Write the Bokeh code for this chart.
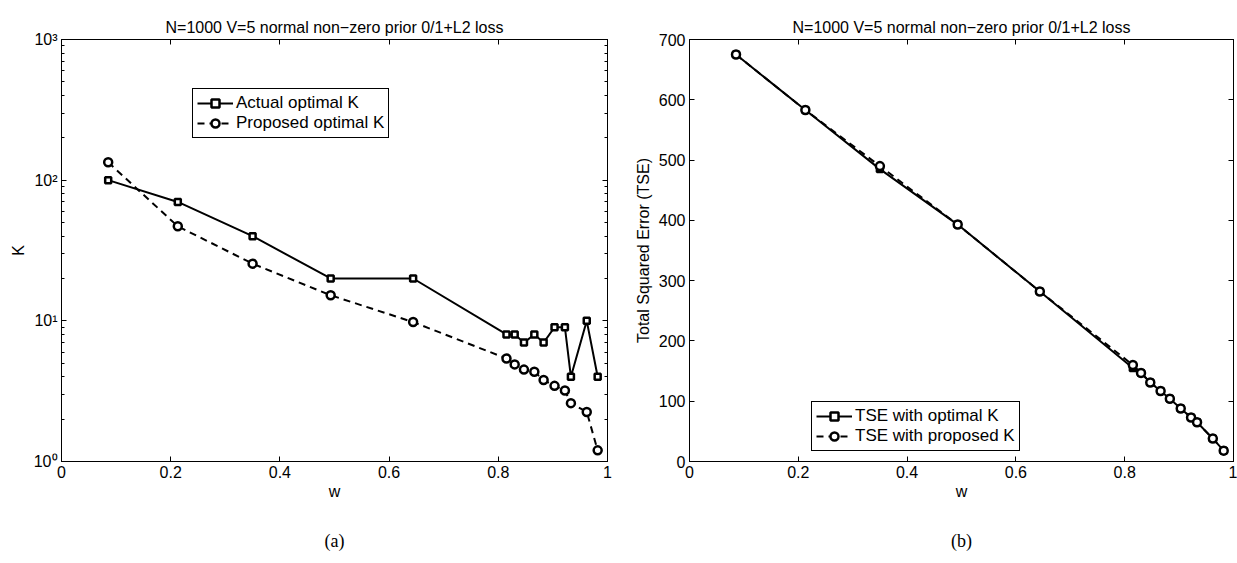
from bokeh.plotting import figure
from bokeh.models import (Range1d, FixedTicker, LinearAxis, LogAxis, Legend, LegendItem,
                          CustomJSTickFormatter)
from bokeh.layouts import row
from bokeh.embed import file_html
from bokeh.resources import INLINE

# ---- data ----
w = [0.0855, 0.213, 0.350, 0.493, 0.644, 0.815, 0.830, 0.847, 0.866, 0.883, 0.903, 0.922, 0.933, 0.962, 0.982]
k_actual = [100, 70, 40, 20, 20, 8, 8, 7, 8, 7, 9, 9, 4, 10, 4]
k_proposed = [134, 47, 25.5, 15.2, 9.8, 5.4, 4.9, 4.5, 4.35, 3.8, 3.45, 3.2, 2.6, 2.25, 1.2]
tse_optimal = [675, 583, 485, 393, 282, 155, 147, 131, 117, 104, 88, 73, 65, 38, 18]
tse_proposed = [675, 583, 490, 393, 282, 160, 147, 131, 117, 104, 88, 73, 65, 38, 18]

x_ticks = [0, 0.2, 0.4, 0.6, 0.8, 1.0]
x_tick_labels = ["0", "0.2", "0.4", "0.6", "0.8", "1"]
logy_ticks = [1, 10, 100, 1000]
logy_tick_labels = ["10\u2070", "10\u00b9", "10\u00b2", "10\u00b3"]
tse_ticks = [0, 100, 200, 300, 400, 500, 600, 700]

title_text = "N=1000 V=5 normal non\u2212zero prior 0/1+L2 loss"
FONT = "Liberation Sans"
SERIF = "Liberation Serif"
FS = "16px"
LEG_FS = "17px"

FRAME_W1, FRAME_W2, FRAME_H = 546, 544, 422
TOP = 39
HEIGHT = 563


def style_axis(ax, labels=True, overrides=None):
    ax.axis_line_color = "black"
    ax.axis_line_width = 1
    ax.major_tick_in = 5
    ax.major_tick_out = 0
    ax.minor_tick_in = 3
    ax.minor_tick_out = 0
    ax.major_tick_line_color = "black"
    ax.minor_tick_line_color = "black"
    ax.major_label_text_font = FONT
    ax.major_label_text_font_size = FS
    ax.major_label_text_color = "black"
    ax.major_label_standoff = 4 if labels else 0
    ax.axis_label_text_font = FONT
    ax.axis_label_text_font_size = FS
    ax.axis_label_text_font_style = "normal"
    ax.axis_label_text_color = "black"
    if not labels:
        ax.formatter = CustomJSTickFormatter(code="return '';")
    if overrides:
        ax.major_label_overrides = overrides


def caption_axis(text):
    ax = LinearAxis(ticker=FixedTicker(ticks=[]), axis_label=text)
    ax.axis_line_color = None
    ax.major_tick_line_color = None
    ax.minor_tick_line_color = None
    ax.major_label_standoff = 0
    ax.axis_label_text_font = SERIF
    ax.axis_label_text_font_size = "18px"
    ax.axis_label_text_font_style = "normal"
    ax.axis_label_text_color = "black"
    ax.axis_label_standoff = 28
    return ax


def base_fig(width, left, right, ytype, yrange, fw):
    p = figure(width=width, height=HEIGHT, x_range=Range1d(0, 1), y_range=yrange,
               y_axis_type=ytype, output_backend="svg", toolbar_location=None,
               min_border_left=left, min_border_right=right,
               min_border_top=TOP, min_border_bottom=HEIGHT - TOP - FRAME_H)
    p.frame_width = fw
    p.frame_height = FRAME_H
    p.xgrid.visible = False
    p.ygrid.visible = False
    p.outline_line_color = "black"
    p.outline_line_width = 1
    p.outline_line_alpha = 1
    p.background_fill_color = "white"
    p.border_fill_color = "white"
    p.title.text = title_text
    p.title.align = "center"
    p.title.text_font = FONT
    p.title.text_font_size = FS
    p.title.text_font_style = "normal"
    p.title.text_color = "black"
    p.title.standoff = 8
    return p


def style_legend(leg):
    leg.label_text_font = FONT
    leg.label_text_font_size = LEG_FS
    leg.label_text_color = "black"
    leg.label_standoff = 3
    leg.glyph_width = 36
    leg.glyph_height = 20
    leg.label_height = 20
    leg.spacing = 0
    leg.padding = 4
    leg.margin = 0
    leg.border_line_color = "black"
    leg.border_line_alpha = 1
    leg.border_line_width = 1
    leg.background_fill_color = "white"
    leg.background_fill_alpha = 1


xo = {t: l for t, l in zip(x_ticks, x_tick_labels)}

# ---------------- left plot ----------------
p1 = base_fig(620, 61, 13, "log", Range1d(1, 1000), FRAME_W1)
minor_log = [m * 10 ** e for e in range(0, 3) for m in range(2, 10)]
lo = {t: l for t, l in zip(logy_ticks, logy_tick_labels)}
p1.xaxis.ticker = FixedTicker(ticks=x_ticks)
p1.yaxis.ticker = FixedTicker(ticks=logy_ticks, minor_ticks=minor_log)
style_axis(p1.xaxis[0], True, xo)
style_axis(p1.yaxis[0], True, lo)
p1.xaxis.axis_label = "w"
p1.yaxis.axis_label = "K"
p1.xaxis.axis_label_standoff = 2
p1.yaxis.axis_label_standoff = 4
ta = LinearAxis(ticker=FixedTicker(ticks=x_ticks))
style_axis(ta, False)
p1.add_layout(ta, "above")
ra = LogAxis(ticker=FixedTicker(ticks=logy_ticks, minor_ticks=minor_log))
style_axis(ra, False)
p1.add_layout(ra, "right")
p1.add_layout(caption_axis("(a)"), "below")

l1 = p1.line(w, k_actual, line_color="black", line_width=2)
s1 = p1.scatter(w, k_actual, marker="square", size=6, line_color="black", line_width=2.5, fill_color="white")
l2 = p1.line(w, k_proposed, line_color="black", line_width=2, line_dash="7 5")
s2 = p1.scatter(w, k_proposed, marker="circle", size=8, line_color="black", line_width=2.5, fill_color="white")

leg1 = Legend(items=[LegendItem(label="Actual optimal K", renderers=[l1, s1]),
                     LegendItem(label="Proposed optimal K", renderers=[l2, s2])],
              location=(131, 323))
style_legend(leg1)
p1.add_layout(leg1, "center")

# ---------------- right plot ----------------
p2 = base_fig(617, 69, 4, "linear", Range1d(0, 700), FRAME_W2)
p2.xaxis.ticker = FixedTicker(ticks=x_ticks)
p2.yaxis.ticker = FixedTicker(ticks=tse_ticks)
style_axis(p2.xaxis[0], True, xo)
style_axis(p2.yaxis[0], True)
p2.xaxis.axis_label = "w"
p2.yaxis.axis_label = "Total Squared Error (TSE)"
p2.xaxis.axis_label_standoff = 2
p2.yaxis.axis_label_standoff = 4
ta2 = LinearAxis(ticker=FixedTicker(ticks=x_ticks))
style_axis(ta2, False)
p2.add_layout(ta2, "above")
ra2 = LinearAxis(ticker=FixedTicker(ticks=tse_ticks))
style_axis(ra2, False)
p2.add_layout(ra2, "right")
p2.add_layout(caption_axis("(b)"), "below")

m1 = p2.line(w, tse_optimal, line_color="black", line_width=2)
n1 = p2.scatter(w, tse_optimal, marker="square", size=6, line_color="black", line_width=2.5, fill_color="white")
m2 = p2.line(w, tse_proposed, line_color="black", line_width=2, line_dash="7 5")
n2 = p2.scatter(w, tse_proposed, marker="circle", size=8, line_color="black", line_width=2.5, fill_color="white")

leg2 = Legend(items=[LegendItem(label="TSE with optimal K", renderers=[m1, n1]),
                     LegendItem(label="TSE with proposed K", renderers=[m2, n2])],
              location=(122, 10))
style_legend(leg2)
p2.add_layout(leg2, "center")

layout = row(p1, p2)
open("out.html", "w").write(file_html(layout, INLINE))
